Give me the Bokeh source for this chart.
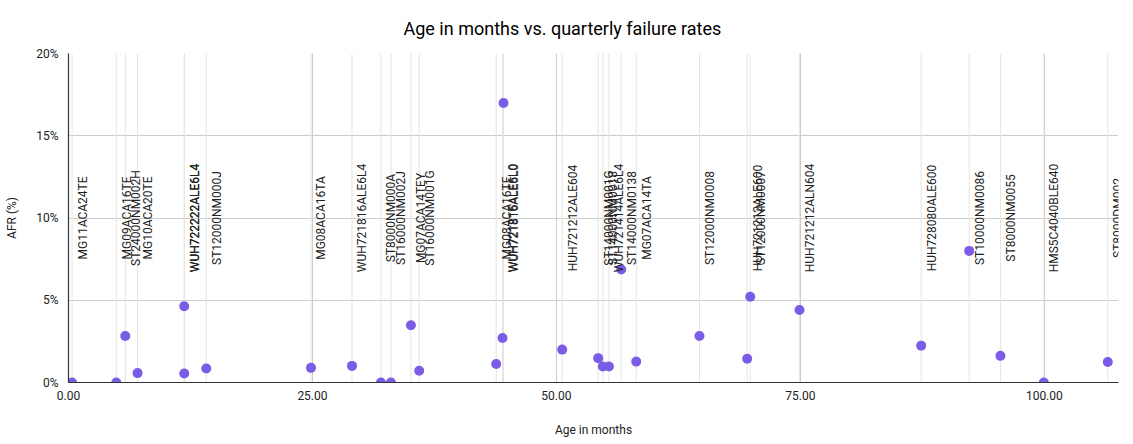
import math
from bokeh.plotting import figure
from bokeh.models import Range1d, FixedTicker, PrintfTickFormatter, ColumnDataSource, LabelSet
from bokeh.core.properties import value
from bokeh.embed import file_html
from bokeh.resources import INLINE

# ---- data ----
models = [
    "MG11ACA24TE", "MG09ACA16TE", "ST24000NM002H", "MG10ACA20TE",
    "WUH722222ALE6L4", "WUH722222ALE6L4", "ST12000NM000J", "MG08ACA16TA",
    "WUH721816ALE6L4", "ST8000NM000A", "ST16000NM002J", "MG07ACA14TEY",
    "ST16000NM001G", "MG08ACA16TE", "WUH721816ALE6L0", "WUH721816ALE6L0",
    "HUH721212ALE604", "ST14000NM001G", "ST14000NM0018", "WUH721414ALE6L4",
    "ST14000NM0138", "MG07ACA14TA", "ST12000NM0008", "HUH721212ALE600",
    "ST12000NM0007", "HUH721212ALN604", "HUH728080ALE600", "ST10000NM0086",
    "ST8000NM0055", "HMS5C4040BLE640", "ST8000DM002",
]
age_months = [
    0.36, 4.90, 5.82, 7.08,
    11.86, 11.86, 14.12, 24.85,
    29.05, 32.02, 33.04, 35.09,
    35.94, 43.83, 44.48, 44.58,
    50.59, 54.28, 54.76, 55.38,
    56.64, 58.18, 64.66, 69.55,
    69.86, 74.91, 87.38, 92.30,
    95.50, 99.95, 106.50,
]
afr_pct = [
    0.0, 0.0, 2.83, 0.57,
    4.63, 0.55, 0.85, 0.89,
    1.01, 0.0, 0.0, 3.48,
    0.71, 1.12, 2.71, 16.99,
    2.00, 1.48, 0.97, 0.97,
    6.87, 1.27, 2.83, 1.44,
    5.21, 4.41, 2.24, 8.00,
    1.62, 0.0, 1.25,
]
x_ticks = [0, 25, 50, 75, 100]
y_ticks = [0, 5, 10, 15, 20]
x_max = 107.6
y_min, y_max = 0, 20

FONT = "Roboto"
POINT = "#7b5ce6"

label_y = [(y_min + y_max) / 2] * len(models)
src = ColumnDataSource(dict(model=models, age=age_months, afr=afr_pct,
                            y0=[y_min] * len(models), y1=[y_max] * len(models),
                            ly=label_y))

p = figure(width=1133, height=444, output_backend="svg", toolbar_location=None,
           x_range=Range1d(0, x_max), y_range=Range1d(y_min, y_max),
           min_border_left=68, min_border_right=15, min_border_top=52,
           min_border_bottom=62)
p.outline_line_color = None
p.background_fill_color = "white"
p.border_fill_color = "white"

p.title.text = "Age in months vs. quarterly failure rates"
p.title.align = "left"
p.title.offset = 335
p.title.standoff = 30
p.title.text_font = FONT
p.title.text_font_size = "18px"
p.title.text_font_style = "normal"
p.title.text_color = "#000000"

# axes
p.xaxis.ticker = FixedTicker(ticks=x_ticks)
p.yaxis.ticker = FixedTicker(ticks=y_ticks)
p.xaxis.formatter = PrintfTickFormatter(format="%.2f")
p.yaxis.formatter = PrintfTickFormatter(format="%d%%")
for ax in (p.xaxis, p.yaxis):
    ax.major_tick_out = 0
    ax.major_tick_in = 0
    ax.minor_tick_out = 0
    ax.minor_tick_in = 0
    ax.axis_line_color = "#333333"
    ax.axis_line_width = 1.2
    ax.major_label_text_font = FONT
    ax.major_label_text_font_size = "12px"
    ax.major_label_text_color = "#222222"
    ax.axis_label_text_font = FONT
    ax.axis_label_text_font_size = "12px"
    ax.axis_label_text_font_style = "normal"
    ax.axis_label_text_color = "#222222"
p.xaxis.axis_label = "Age in months"
p.yaxis.axis_label = "AFR (%)"
p.xaxis.major_label_standoff = 8
p.xaxis.axis_label_standoff = 20
p.yaxis.major_label_standoff = 10
p.yaxis.axis_label_standoff = 14

p.xgrid.grid_line_color = "#cccccc"
p.ygrid.grid_line_color = "#cccccc"
p.xgrid.ticker = FixedTicker(ticks=x_ticks[1:])
p.ygrid.ticker = FixedTicker(ticks=y_ticks[1:])

# annotation lines for each point
p.segment(x0="age", y0="y0", x1="age", y1="y1", source=src,
          line_color="#e4e4e4", line_width=1)

# labels (annotation, so not clipped to the frame)
labels = LabelSet(x="age", y="ly", text="model", source=src, angle=math.pi / 2,
                  text_align="center", text_baseline="middle", x_offset=10.5,
                  text_font=value(FONT), text_font_size=value("12px"),
                  text_color="#222222")
p.add_layout(labels)

# points
p.scatter(x="age", y="afr", source=src, size=10, fill_color=POINT,
          line_color=POINT, line_width=0)

open("out.html", "w").write(file_html(p, INLINE))
